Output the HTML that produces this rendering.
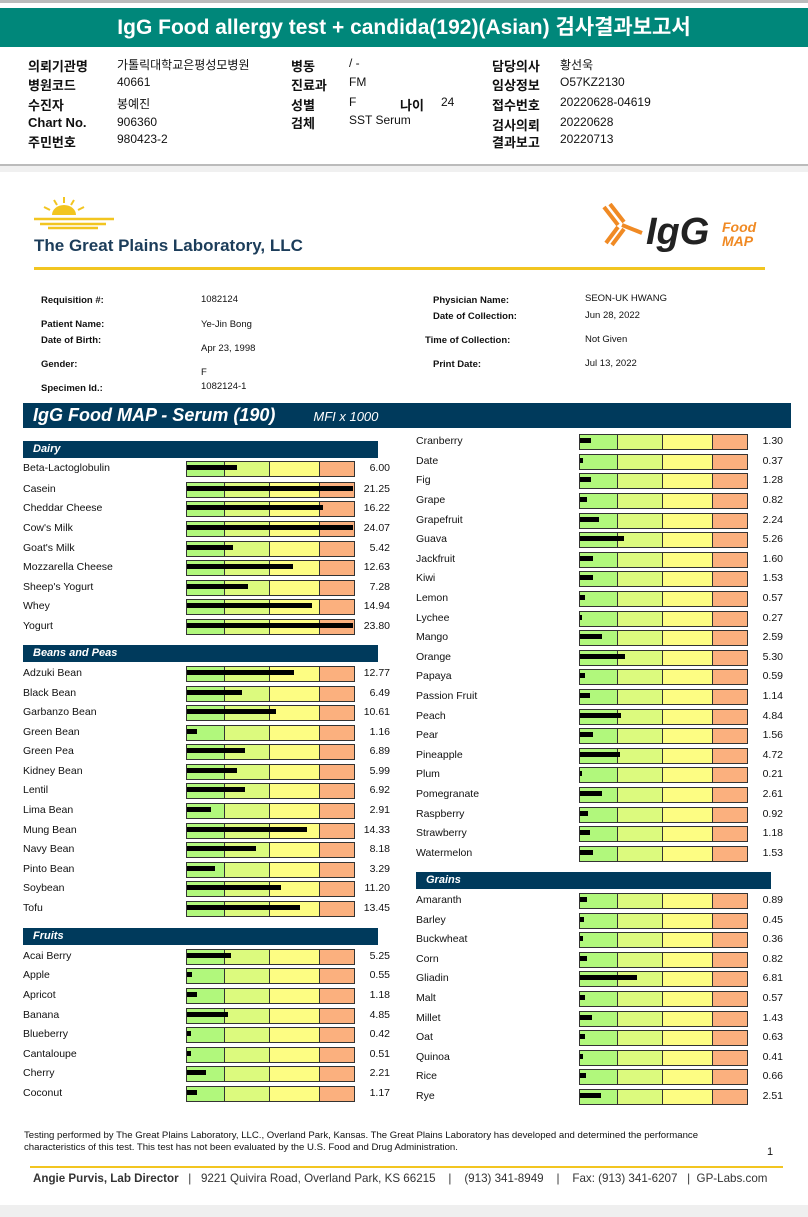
<!DOCTYPE html>
<html><head><meta charset="utf-8"><style>
*{margin:0;padding:0;box-sizing:border-box}
body{width:808px;height:1217px;position:relative;background:#fff;font-family:"Liberation Sans","Noto Sans CJK KR",sans-serif;overflow:hidden;color:#111}
.a{position:absolute;white-space:nowrap}
.k{font-family:"Liberation Sans","Noto Sans CJK KR",sans-serif;font-size:12px}
.kb{font-weight:bold;font-size:13px}
.s{font-size:9.5px}
.sb{font-size:9.5px;font-weight:bold}
.r{position:absolute;width:370px;height:16px;line-height:16px;font-size:10.5px}
.L{left:23px}.R{left:416px}
.r::before{content:"";position:absolute;left:163px;top:1px;width:167px;height:14px;border:1px solid #333;background:linear-gradient(to right,#b1f87c 0 37px,#333 37px 38px,#dcfa7e 38px 82px,#333 82px 83px,#fdfd83 83px 132px,#333 132px 133px,#fbb07e 133px)}
.r i{position:absolute;left:164px;top:5px;height:5px;background:#000}
.r b{position:absolute;right:3px;font-weight:normal}
.h{position:absolute;height:17px;background:#003a5c;color:#fff;font-weight:bold;font-style:italic;font-size:11px;line-height:17px;padding-left:10px}
</style></head><body>
<div class="a" style="left:0;top:0;width:808px;height:3px;background:#bbb"></div>
<div class="a" style="left:0;top:8px;width:808px;height:39px;background:#00877a;color:#fff;font-size:21px;font-weight:bold;text-align:center;line-height:39px">IgG Food allergy test + candida(192)(Asian) 검사결과보고서</div>
<div class="a kb" style="left:28px;top:56px">의뢰기관명</div><div class="a k" style="left:117px;top:56px">가톨릭대학교은평성모병원</div>
<div class="a kb" style="left:28px;top:75px">병원코드</div><div class="a k" style="left:117px;top:75px">40661</div>
<div class="a kb" style="left:28px;top:95px">수진자</div><div class="a k" style="left:117px;top:95px">봉예진</div>
<div class="a kb" style="left:28px;top:115px">Chart No.</div><div class="a k" style="left:117px;top:115px">906360</div>
<div class="a kb" style="left:28px;top:132px">주민번호</div><div class="a k" style="left:117px;top:132px">980423-2</div>
<div class="a kb" style="left:291px;top:56px">병동</div><div class="a k" style="left:349px;top:56px">/ -</div>
<div class="a kb" style="left:291px;top:75px">진료과</div><div class="a k" style="left:349px;top:75px">FM</div>
<div class="a kb" style="left:291px;top:95px">성별</div><div class="a k" style="left:349px;top:95px">F</div>
<div class="a kb" style="left:400px;top:95px">나이</div><div class="a k" style="left:441px;top:95px">24</div>
<div class="a kb" style="left:291px;top:113px">검체</div><div class="a k" style="left:349px;top:113px">SST Serum</div>
<div class="a kb" style="left:492px;top:56px">담당의사</div><div class="a k" style="left:560px;top:56px">황선욱</div>
<div class="a kb" style="left:492px;top:75px">임상정보</div><div class="a k" style="left:560px;top:75px">O57KZ2130</div>
<div class="a kb" style="left:492px;top:95px">접수번호</div><div class="a k" style="left:560px;top:95px">20220628-04619</div>
<div class="a kb" style="left:492px;top:115px">검사의뢰</div><div class="a k" style="left:560px;top:115px">20220628</div>
<div class="a kb" style="left:492px;top:132px">결과보고</div><div class="a k" style="left:560px;top:132px">20220713</div>
<div class="a" style="left:0;top:164px;width:808px;height:2px;background:#bbb"></div>
<div class="a" style="left:0;top:166px;width:808px;height:6px;background:#f0f0f0"></div>

<svg class="a" style="left:34px;top:195px" width="80" height="40"><path d="M18 20a12 10 0 0 1 24 0z" fill="#f2c520"/><g stroke="#f2c520" stroke-width="2"><line x1="30" y1="2" x2="30" y2="8"/><line x1="20" y1="5" x2="23" y2="10"/><line x1="40" y1="5" x2="37" y2="10"/><line x1="10" y1="12" x2="16" y2="15"/><line x1="50" y1="12" x2="44" y2="15"/></g><path d="M0 24h80M6 29h66M14 33h50" stroke="#f2c520" stroke-width="2.5"/></svg>
<div class="a" style="left:34px;top:236px;font-size:17px;font-weight:bold;color:#1c3d5a">The Great Plains Laboratory, LLC</div>
<svg class="a" style="left:600px;top:203px" width="50" height="45"><g stroke="#f08a24" stroke-width="4" fill="none"><path d="M4 4l14 18M10 1l14 18M22 22l20 8M18 24l-12 16M24 26l-12 16"/></g></svg>
<div class="a" style="left:646px;top:212px;font-size:38px;font-weight:bold;font-style:italic;color:#222;line-height:40px">IgG</div>
<div class="a" style="left:722px;top:220px;font-size:14px;font-weight:bold;font-style:italic;color:#f08a24;line-height:14px">Food<br>MAP</div>
<div class="a" style="left:34px;top:267px;width:731px;height:3px;background:#f2c520"></div>

<div class="a sb" style="left:41px;top:295px">Requisition #:</div><div class="a s" style="left:201px;top:294px">1082124</div>
<div class="a sb" style="left:41px;top:319px">Patient Name:</div><div class="a s" style="left:201px;top:319px">Ye-Jin Bong</div>
<div class="a sb" style="left:41px;top:335px">Date of Birth:</div><div class="a s" style="left:201px;top:343px">Apr 23, 1998</div>
<div class="a sb" style="left:41px;top:359px">Gender:</div><div class="a s" style="left:201px;top:367px">F</div>
<div class="a sb" style="left:41px;top:383px">Specimen Id.:</div><div class="a s" style="left:201px;top:381px">1082124-1</div>
<div class="a sb" style="left:433px;top:295px">Physician Name:</div><div class="a s" style="left:585px;top:293px">SEON-UK HWANG</div>
<div class="a sb" style="left:433px;top:311px">Date of Collection:</div><div class="a s" style="left:585px;top:310px">Jun 28, 2022</div>
<div class="a sb" style="left:425px;top:335px">Time of Collection:</div><div class="a s" style="left:585px;top:334px">Not Given</div>
<div class="a sb" style="left:433px;top:359px">Print Date:</div><div class="a s" style="left:585px;top:358px">Jul 13, 2022</div>

<div class="a" style="left:23px;top:403px;width:768px;height:25px;background:#003a5c;color:#fff;font-style:italic;line-height:25px"><span style="font-size:18px;font-weight:bold;margin-left:10px">IgG Food MAP - Serum (190)</span><span style="font-size:13px;margin-left:38px">MFI x 1000</span></div>

<div class="h" style="left:23px;top:441px;width:355px">Dairy</div>
<div class="r L" style="top:460px">Beta-Lactoglobulin<i style="width:50px"></i><b>6.00</b></div>
<div class="r L" style="top:481px">Casein<i style="width:166px"></i><b>21.25</b></div>
<div class="r L" style="top:500px">Cheddar Cheese<i style="width:136px"></i><b>16.22</b></div>
<div class="r L" style="top:520px">Cow's Milk<i style="width:166px"></i><b>24.07</b></div>
<div class="r L" style="top:540px">Goat's Milk<i style="width:46px"></i><b>5.42</b></div>
<div class="r L" style="top:559px">Mozzarella Cheese<i style="width:106px"></i><b>12.63</b></div>
<div class="r L" style="top:579px">Sheep's Yogurt<i style="width:61px"></i><b>7.28</b></div>
<div class="r L" style="top:598px">Whey<i style="width:125px"></i><b>14.94</b></div>
<div class="r L" style="top:618px">Yogurt<i style="width:166px"></i><b>23.80</b></div>

<div class="h" style="left:23px;top:645px;width:355px">Beans and Peas</div>
<div class="r L" style="top:665px">Adzuki Bean<i style="width:107px"></i><b>12.77</b></div>
<div class="r L" style="top:685px">Black Bean<i style="width:55px"></i><b>6.49</b></div>
<div class="r L" style="top:704px">Garbanzo Bean<i style="width:89px"></i><b>10.61</b></div>
<div class="r L" style="top:724px">Green Bean<i style="width:10px"></i><b>1.16</b></div>
<div class="r L" style="top:743px">Green Pea<i style="width:58px"></i><b>6.89</b></div>
<div class="r L" style="top:763px">Kidney Bean<i style="width:50px"></i><b>5.99</b></div>
<div class="r L" style="top:782px">Lentil<i style="width:58px"></i><b>6.92</b></div>
<div class="r L" style="top:802px">Lima Bean<i style="width:24px"></i><b>2.91</b></div>
<div class="r L" style="top:822px">Mung Bean<i style="width:120px"></i><b>14.33</b></div>
<div class="r L" style="top:841px">Navy Bean<i style="width:69px"></i><b>8.18</b></div>
<div class="r L" style="top:861px">Pinto Bean<i style="width:28px"></i><b>3.29</b></div>
<div class="r L" style="top:880px">Soybean<i style="width:94px"></i><b>11.20</b></div>
<div class="r L" style="top:900px">Tofu<i style="width:113px"></i><b>13.45</b></div>

<div class="h" style="left:23px;top:928px;width:355px">Fruits</div>
<div class="r L" style="top:948px">Acai Berry<i style="width:44px"></i><b>5.25</b></div>
<div class="r L" style="top:967px">Apple<i style="width:5px"></i><b>0.55</b></div>
<div class="r L" style="top:987px">Apricot<i style="width:10px"></i><b>1.18</b></div>
<div class="r L" style="top:1007px">Banana<i style="width:41px"></i><b>4.85</b></div>
<div class="r L" style="top:1026px">Blueberry<i style="width:4px"></i><b>0.42</b></div>
<div class="r L" style="top:1046px">Cantaloupe<i style="width:4px"></i><b>0.51</b></div>
<div class="r L" style="top:1065px">Cherry<i style="width:19px"></i><b>2.21</b></div>
<div class="r L" style="top:1085px">Coconut<i style="width:10px"></i><b>1.17</b></div>

<div class="r R" style="top:433px">Cranberry<i style="width:11px"></i><b>1.30</b></div>
<div class="r R" style="top:453px">Date<i style="width:3px"></i><b>0.37</b></div>
<div class="r R" style="top:472px">Fig<i style="width:11px"></i><b>1.28</b></div>
<div class="r R" style="top:492px">Grape<i style="width:7px"></i><b>0.82</b></div>
<div class="r R" style="top:512px">Grapefruit<i style="width:19px"></i><b>2.24</b></div>
<div class="r R" style="top:531px">Guava<i style="width:44px"></i><b>5.26</b></div>
<div class="r R" style="top:551px">Jackfruit<i style="width:13px"></i><b>1.60</b></div>
<div class="r R" style="top:570px">Kiwi<i style="width:13px"></i><b>1.53</b></div>
<div class="r R" style="top:590px">Lemon<i style="width:5px"></i><b>0.57</b></div>
<div class="r R" style="top:610px">Lychee<i style="width:2px"></i><b>0.27</b></div>
<div class="r R" style="top:629px">Mango<i style="width:22px"></i><b>2.59</b></div>
<div class="r R" style="top:649px">Orange<i style="width:45px"></i><b>5.30</b></div>
<div class="r R" style="top:668px">Papaya<i style="width:5px"></i><b>0.59</b></div>
<div class="r R" style="top:688px">Passion Fruit<i style="width:10px"></i><b>1.14</b></div>
<div class="r R" style="top:708px">Peach<i style="width:41px"></i><b>4.84</b></div>
<div class="r R" style="top:727px">Pear<i style="width:13px"></i><b>1.56</b></div>
<div class="r R" style="top:747px">Pineapple<i style="width:40px"></i><b>4.72</b></div>
<div class="r R" style="top:766px">Plum<i style="width:2px"></i><b>0.21</b></div>
<div class="r R" style="top:786px">Pomegranate<i style="width:22px"></i><b>2.61</b></div>
<div class="r R" style="top:806px">Raspberry<i style="width:8px"></i><b>0.92</b></div>
<div class="r R" style="top:825px">Strawberry<i style="width:10px"></i><b>1.18</b></div>
<div class="r R" style="top:845px">Watermelon<i style="width:13px"></i><b>1.53</b></div>

<div class="h" style="left:416px;top:872px;width:355px">Grains</div>
<div class="r R" style="top:892px">Amaranth<i style="width:7px"></i><b>0.89</b></div>
<div class="r R" style="top:912px">Barley<i style="width:4px"></i><b>0.45</b></div>
<div class="r R" style="top:931px">Buckwheat<i style="width:3px"></i><b>0.36</b></div>
<div class="r R" style="top:951px">Corn<i style="width:7px"></i><b>0.82</b></div>
<div class="r R" style="top:970px">Gliadin<i style="width:57px"></i><b>6.81</b></div>
<div class="r R" style="top:990px">Malt<i style="width:5px"></i><b>0.57</b></div>
<div class="r R" style="top:1010px">Millet<i style="width:12px"></i><b>1.43</b></div>
<div class="r R" style="top:1029px">Oat<i style="width:5px"></i><b>0.63</b></div>
<div class="r R" style="top:1049px">Quinoa<i style="width:3px"></i><b>0.41</b></div>
<div class="r R" style="top:1068px">Rice<i style="width:6px"></i><b>0.66</b></div>
<div class="r R" style="top:1088px">Rye<i style="width:21px"></i><b>2.51</b></div>

<div class="a" style="left:24px;top:1130px;font-size:9.6px;line-height:12px">Testing performed by The Great Plains Laboratory, LLC., Overland Park, Kansas.  The Great Plains Laboratory has developed and determined the performance<br>characteristics of this test.  This test has not been evaluated by the U.S.  Food and Drug Administration.</div>
<div class="a" style="left:767px;top:1146px;font-size:11px">1</div>
<div class="a" style="left:30px;top:1166px;width:753px;height:2px;background:#f2c520"></div>
<div class="a" style="left:33px;top:1172px;font-size:11.6px;color:#333"><b>Angie Purvis, Lab Director</b> &nbsp; | &nbsp; 9221 Quivira Road, Overland Park, KS 66215 &nbsp; &nbsp;| &nbsp; &nbsp;(913) 341-8949 &nbsp; &nbsp;| &nbsp; &nbsp;Fax: (913) 341-6207 &nbsp; | &nbsp;GP-Labs.com</div>
<div class="a" style="left:0;top:1205px;width:808px;height:12px;background:#efefef"></div>
</body></html>
